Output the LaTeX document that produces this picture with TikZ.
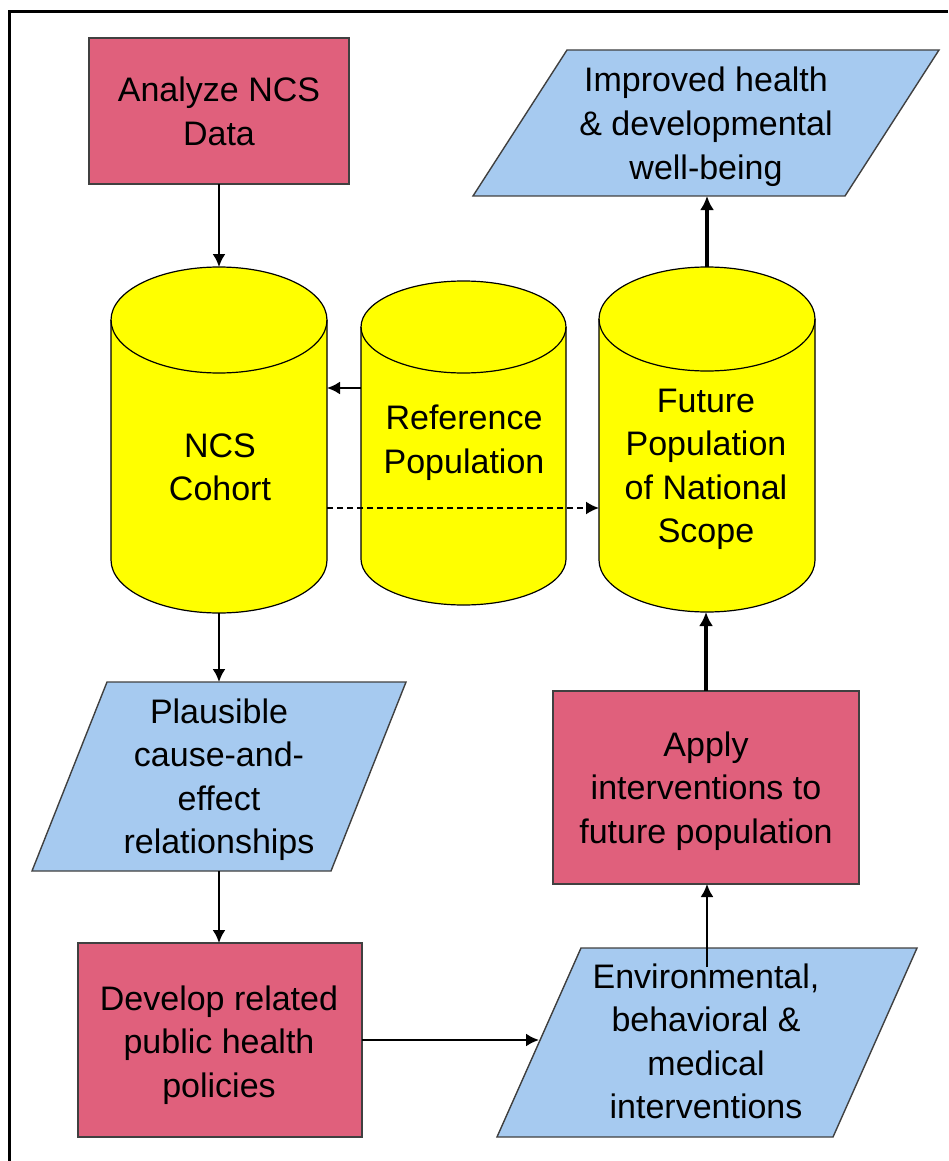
\documentclass[tikz,border=0pt]{standalone}
\usepackage{fontspec}
\setmainfont{Liberation Sans}
\usetikzlibrary{arrows.meta,calc}
\definecolor{pinkc}{HTML}{E0607C}
\definecolor{bluec}{HTML}{A6CAF0}
\definecolor{yellowc}{HTML}{FFFF00}
\definecolor{edgec}{HTML}{404040}
\newcommand{\mycyl}[5]{%
  \fill[yellowc] ({#1-#4},#2) -- ({#1-#4},#3) arc[start angle=180,end angle=360,x radius=#4,y radius=#5] -- ({#1+#4},#2) arc[start angle=0,end angle=180,x radius=#4,y radius=#5] -- cycle;
  \draw[cyledge] ({#1-#4},#2) -- ({#1-#4},#3) arc[start angle=180,end angle=360,x radius=#4,y radius=#5] -- ({#1+#4},#2);
  \draw[cyledge] (#1,#2) ellipse[x radius=#4,y radius=#5];
}
\tikzset{
  cyledge/.style={draw=black,line width=1.2pt},
  hidden/.style={inner sep=0pt,outer sep=0pt},
  pinkbox/.style={hidden,draw=edgec,fill=pinkc,line width=1.4pt},
  paraedge/.style={draw=edgec,fill=bluec,line width=1.4pt,line join=miter},
  lbl/.style={font=\fontsize{34}{43.5}\selectfont,align=center,anchor=base,inner sep=0pt},
  arr/.style={-{Latex[length=13pt,width=13pt]},line width=2.2pt},
  thickarr/.style={-{Latex[length=14pt,width=14pt]},line width=3.4pt},
  dasharr/.style={-{Latex[length=13pt,width=13pt]},line width=2pt,dash pattern=on 6pt off 4pt},
}
\begin{document}
\begin{tikzpicture}[x=1pt,y=1pt]
\useasboundingbox (0,0) rectangle (948,-1161);
% outer frame (cropped)
\draw[line width=3pt] (9,-1161) -- (9,-12) -- (948,-12);

% rectangles
\node[pinkbox,minimum width=260pt,minimum height=146pt] (ana) at (219,-111) {};
\node[pinkbox,minimum width=284pt,minimum height=194pt] (dev) at (220,-1040) {};
\node[pinkbox,minimum width=306pt,minimum height=193pt] (app) at (706,-787.5) {};

% parallelograms (bounding nodes)
\node[hidden,minimum width=466pt,minimum height=146pt] (imp) at (706,-123) {};
\node[hidden,minimum width=374pt,minimum height=189pt] (pla) at (219,-776.5) {};
\node[hidden,minimum width=420pt,minimum height=189pt] (env) at (707,-1042.5) {};
\draw[paraedge] (imp.south west) -- ([xshift=-94pt]imp.south east) -- (imp.north east) -- ([xshift=94pt]imp.north west) -- cycle;
\draw[paraedge] (pla.south west) -- ([xshift=-75pt]pla.south east) -- (pla.north east) -- ([xshift=75pt]pla.north west) -- cycle;
\draw[paraedge] (env.south west) -- ([xshift=-84pt]env.south east) -- (env.north east) -- ([xshift=84pt]env.north west) -- cycle;

% cylinders
\mycyl{219}{-320}{-560}{108}{53}
\mycyl{463.5}{-327}{-559}{102.5}{46}
\mycyl{707}{-319}{-560}{108}{52}
\node[hidden,minimum width=216pt,minimum height=346pt] (ncs) at (219,-440) {};
\node[hidden,minimum width=205pt,minimum height=324pt] (ref) at (463.5,-443) {};
\node[hidden,minimum width=216pt,minimum height=345pt] (fut) at (707,-439.5) {};

% labels (anchored at the baseline of the last line)
\node[lbl] (anaT) at (219,-145.5) {Analyze NCS\\Data};
\node[lbl] (impT) at (706,-179) {Improved health\\\& developmental\\well-being};
\node[lbl] (ncsT) at (220,-500.5) {NCS\\Cohort};
\node[lbl] (refT) at (464,-473) {Reference\\Population};
\node[lbl] (futT) at (706,-542.5) {Future\\Population\\of National\\Scope};
\node[lbl] (plaT) at (219,-853.5) {Plausible\\cause-and-\\effect\\relationships};
\node[lbl] (appT) at (706,-843) {Apply\\interventions to\\future population};
\node[lbl] (devT) at (219,-1097) {Develop related\\public health\\policies};
\node[lbl] (envT) at (706,-1118.5) {Environmental,\\behavioral \&\\medical\\interventions};

% connectors
\coordinate (yref) at (0,-388);
\coordinate (ydash) at (0,-508);
\coordinate (envL) at ([xshift=42pt]env.west);
\coordinate (envIn) at ([yshift=-19pt]env.north);
\draw[arr] (ana.south) -- (ncs.north);
\draw[arr] (ref.west |- yref) -- (ncs.east |- yref);
\draw[dasharr] (ncs.east |- ydash) -- (fut.west |- ydash);
\draw[arr] (ncs.south) -- (pla.north);
\draw[arr] (pla.south) -- (pla.south |- dev.north);
\draw[arr] (dev.east) -- (dev.east -| envL);
\draw[arr] (envIn) -- (envIn |- app.south);
\draw[thickarr] (app.north) -- (app.north |- fut.south);
\draw[thickarr] (fut.north) -- (fut.north |- imp.south);
\end{tikzpicture}
\end{document}
